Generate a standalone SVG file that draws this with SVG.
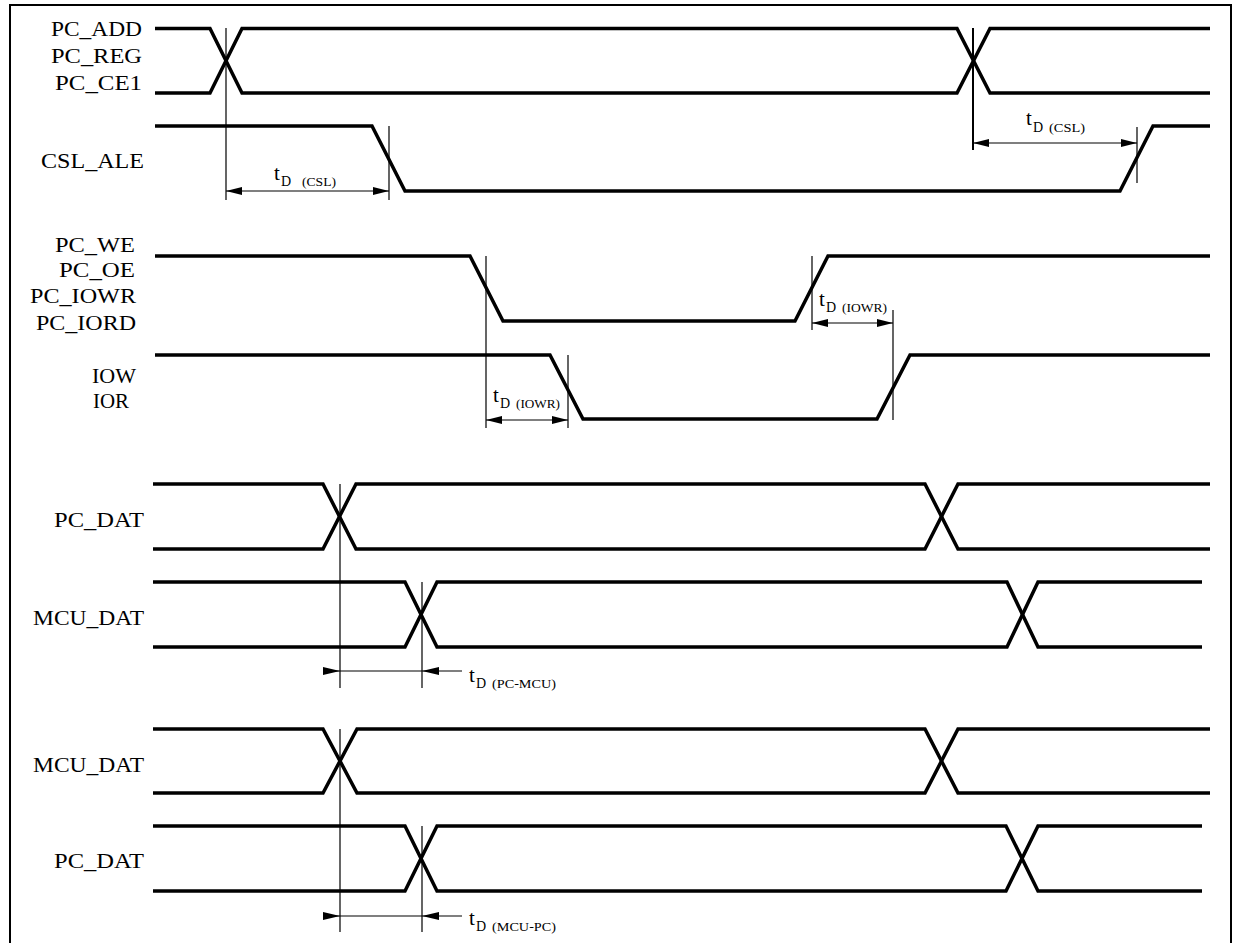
<svg xmlns="http://www.w3.org/2000/svg" width="1234" height="943" viewBox="0 0 1234 943">
<style>
.sig{fill:none;stroke:#000;stroke-width:3.5;stroke-linejoin:miter}
.thin{fill:none;stroke:#000;stroke-width:1.2}
.lbl{font-family:"Liberation Serif","Times New Roman",serif;font-size:21px;fill:#000}
.t{font-family:"Liberation Serif","Times New Roman",serif;font-size:21px;fill:#000}
.d{font-size:14px}
.p{font-size:12px}
</style>
<defs>
<marker id="ah" viewBox="0 0 16 8" refX="16" refY="4" markerWidth="16" markerHeight="8" markerUnits="userSpaceOnUse" orient="auto-start-reverse">
<path d="M0,0 L16,4 L0,8 Z" fill="#000"/>
</marker>
</defs>
<rect width="1234" height="943" fill="#fff"/>
<path d="M10,943 V5 H1231 V943" fill="none" stroke="#000" stroke-width="2"/>

<g id="labels">
<text class="lbl" x="51" y="36" textLength="91" lengthAdjust="spacingAndGlyphs">PC_ADD</text>
<text class="lbl" x="51" y="63" textLength="91" lengthAdjust="spacingAndGlyphs">PC_REG</text>
<text class="lbl" x="55" y="90" textLength="87" lengthAdjust="spacingAndGlyphs">PC_CE1</text>
<text class="lbl" x="41" y="168" textLength="103" lengthAdjust="spacingAndGlyphs">CSL_ALE</text>
<text class="lbl" x="55" y="252" textLength="80" lengthAdjust="spacingAndGlyphs">PC_WE</text>
<text class="lbl" x="59" y="277" textLength="76" lengthAdjust="spacingAndGlyphs">PC_OE</text>
<text class="lbl" x="30" y="303" textLength="106" lengthAdjust="spacingAndGlyphs">PC_IOWR</text>
<text class="lbl" x="36" y="330" textLength="100" lengthAdjust="spacingAndGlyphs">PC_IORD</text>
<text class="lbl" x="92" y="383" textLength="44" lengthAdjust="spacingAndGlyphs">IOW</text>
<text class="lbl" x="93" y="408" textLength="36" lengthAdjust="spacingAndGlyphs">IOR</text>
<text class="lbl" x="54" y="527" textLength="90" lengthAdjust="spacingAndGlyphs">PC_DAT</text>
<text class="lbl" x="33" y="625" textLength="111" lengthAdjust="spacingAndGlyphs">MCU_DAT</text>
<text class="lbl" x="33" y="772" textLength="111" lengthAdjust="spacingAndGlyphs">MCU_DAT</text>
<text class="lbl" x="54" y="868" textLength="90" lengthAdjust="spacingAndGlyphs">PC_DAT</text>
</g>

<g id="signals">
<g id="pc_add"><path class="sig" d="M155,28.5 H210 L242,93 H957 L990,28.5 H1210"/><path class="sig" d="M155,93 H210 L242,28.5 H957 L990,93 H1210"/></g>
<g id="csl_ale"><path class="sig" d="M155,126 H372 L405,191 H1120 L1153,126 H1210"/></g>
<g id="pc_we"><path class="sig" d="M155,256 H470 L503,321 H795 L828,256 H1210"/></g>
<g id="iow"><path class="sig" d="M155,355 H550 L583,419 H877 L910,355 H1210"/></g>
<g id="pc_dat1"><path class="sig" d="M153,484 H323 L356,549 H925 L958,484 H1210"/><path class="sig" d="M153,549 H323 L356,484 H925 L958,549 H1210"/></g>
<g id="mcu_dat1"><path class="sig" d="M153,582 H405 L437,647 H1007 L1038,582 H1202"/><path class="sig" d="M153,647 H405 L437,582 H1007 L1038,647 H1202"/></g>
<g id="mcu_dat2"><path class="sig" d="M153,729 H323 L357,793 H925 L958,729 H1210"/><path class="sig" d="M153,793 H323 L357,729 H925 L958,793 H1210"/></g>
<g id="pc_dat2"><path class="sig" d="M153,826 H405 L437,891 H1006 L1038,826 H1202"/><path class="sig" d="M153,891 H405 L437,826 H1006 L1038,891 H1202"/></g>
</g>

<g id="connectors">
<path class="thin" d="M226,28 V200 M389,126 V200 M1137,127 V183 M486,256 V428 M568,355 V428 M812,256 V330 M893,310 V420 M340,484 V688 M422,582 V688 M340,729 V932 M422,826 V932"/>
<path d="M973,28 V150" fill="none" stroke="#000" stroke-width="2"/>
<path class="thin" d="M226,191 H389" marker-start="url(#ah)" marker-end="url(#ah)"/>
<path class="thin" d="M973,143 H1137" marker-start="url(#ah)" marker-end="url(#ah)"/>
<path class="thin" d="M812,323 H893" marker-start="url(#ah)" marker-end="url(#ah)"/>
<path class="thin" d="M486,420 H568" marker-start="url(#ah)" marker-end="url(#ah)"/>
<path class="thin" d="M323,671 H462"/>
<path d="M323,667 L340,671 L323,675 Z M439,667 L422,671 L439,675 Z"/>
<path class="thin" d="M323,916 H462"/>
<path d="M323,912 L340,916 L323,920 Z M439,912 L422,916 L439,920 Z"/>
</g>

<g id="timing-labels">
<text class="t" x="274" y="180">t<tspan class="d" x="281" y="186">D</tspan><tspan class="p" x="302" y="186" textLength="34" lengthAdjust="spacingAndGlyphs">(CSL)</tspan></text>
<text class="t" x="1026" y="125">t<tspan class="d" x="1033" y="132">D</tspan><tspan class="p" x="1049" y="132" textLength="36" lengthAdjust="spacingAndGlyphs">(CSL)</tspan></text>
<text class="t" x="819" y="306">t<tspan class="d" x="826" y="312">D</tspan><tspan class="p" x="842" y="312" textLength="45" lengthAdjust="spacingAndGlyphs">(IOWR)</tspan></text>
<text class="t" x="493" y="402">t<tspan class="d" x="500" y="408">D</tspan><tspan class="p" x="516" y="408" textLength="44" lengthAdjust="spacingAndGlyphs">(IOWR)</tspan></text>
<text class="t" x="469" y="682">t<tspan class="d" x="476" y="688">D</tspan><tspan class="p" x="492" y="688" textLength="64" lengthAdjust="spacingAndGlyphs">(PC-MCU)</tspan></text>
<text class="t" x="469" y="925">t<tspan class="d" x="476" y="931">D</tspan><tspan class="p" x="492" y="931" textLength="64" lengthAdjust="spacingAndGlyphs">(MCU-PC)</tspan></text>
</g>
</svg>
